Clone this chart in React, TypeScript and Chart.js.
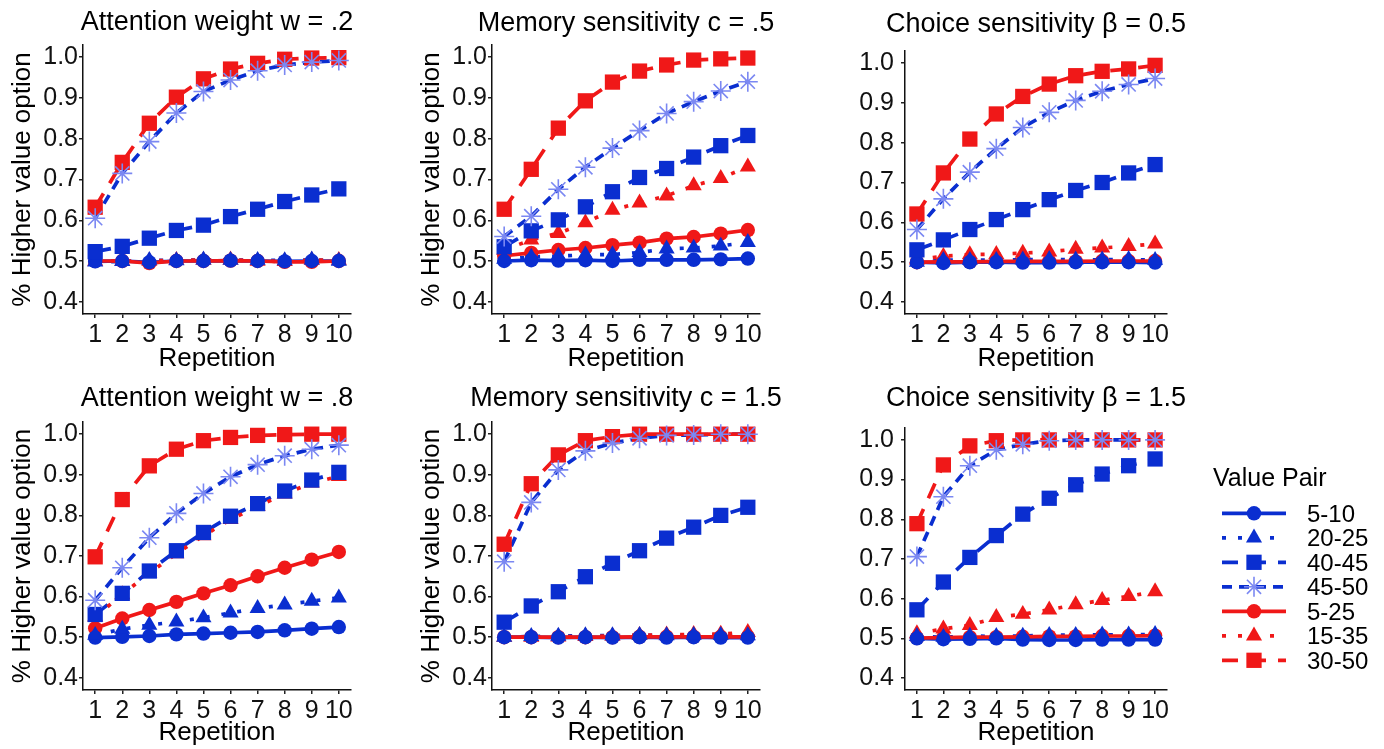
import React, { useEffect, useRef } from "react";
import { Chart, registerables } from "chart.js";

Chart.register(...registerables);

const FONT = "'Liberation Sans', Arial, Helvetica, sans-serif";

// ---------- shared labels ----------
const repetitions = [1, 2, 3, 4, 5, 6, 7, 8, 9, 10];
const yTickValues = [0.4, 0.5, 0.6, 0.7, 0.8, 0.9, 1.0];
const seriesLabels = ["5-10", "20-25", "40-45", "45-50", "5-25", "15-35", "30-50"];
const panelTitles = [
  "Attention weight w = .2",
  "Memory sensitivity c = .5",
  "Choice sensitivity \u03B2 = 0.5",
  "Attention weight w = .8",
  "Memory sensitivity c = 1.5",
  "Choice sensitivity \u03B2 = 1.5",
];
const xAxisTitle = "Repetition";
const yAxisTitle = "% Higher value option";
const legendTitle = "Value Pair";

// ---------- data: Attention weight w = .2 ----------
const w02_5_10 = [0.499, 0.5, 0.497, 0.5, 0.5, 0.501, 0.5, 0.499, 0.5, 0.5];
const w02_20_25 = [0.498, 0.499, 0.502, 0.501, 0.503, 0.502, 0.502, 0.501, 0.503, 0.5];
const w02_40_45 = [0.523, 0.536, 0.556, 0.575, 0.588, 0.609, 0.627, 0.646, 0.662, 0.677];
const w02_45_50 = [0.605, 0.715, 0.793, 0.863, 0.916, 0.944, 0.967, 0.981, 0.988, 0.992];
const w02_5_25 = [0.5, 0.5, 0.495, 0.5, 0.5, 0.501, 0.5, 0.498, 0.498, 0.5];
const w02_15_35 = [0.5, 0.5, 0.5, 0.502, 0.502, 0.503, 0.5, 0.499, 0.502, 0.502];
const w02_30_50 = [0.632, 0.742, 0.838, 0.902, 0.947, 0.971, 0.985, 0.995, 0.998, 0.999];

// ---------- data: Memory sensitivity c = .5 ----------
const m05_5_10 = [0.5, 0.502, 0.501, 0.502, 0.5, 0.503, 0.503, 0.503, 0.504, 0.506];
const m05_20_25 = [0.505, 0.51, 0.512, 0.515, 0.516, 0.521, 0.53, 0.532, 0.537, 0.546];
const m05_40_45 = [0.535, 0.574, 0.601, 0.633, 0.67, 0.705, 0.727, 0.755, 0.783, 0.808];
const m05_45_50 = [0.56, 0.61, 0.676, 0.73, 0.777, 0.82, 0.862, 0.891, 0.917, 0.94];
const m05_5_25 = [0.513, 0.52, 0.527, 0.532, 0.539, 0.545, 0.555, 0.559, 0.567, 0.576];
const m05_15_35 = [0.527, 0.552, 0.568, 0.594, 0.625, 0.643, 0.66, 0.685, 0.703, 0.731];
const m05_30_50 = [0.627, 0.725, 0.826, 0.893, 0.939, 0.966, 0.981, 0.993, 0.996, 0.998];

// ---------- data: Choice sensitivity beta = 0.5 ----------
const b05_5_10 = [0.5, 0.498, 0.5, 0.5, 0.499, 0.499, 0.5, 0.5, 0.5, 0.499];
const b05_20_25 = [0.5, 0.505, 0.505, 0.505, 0.506, 0.507, 0.506, 0.506, 0.507, 0.505];
const b05_40_45 = [0.531, 0.556, 0.582, 0.607, 0.632, 0.657, 0.68, 0.7, 0.724, 0.745];
const b05_45_50 = [0.582, 0.659, 0.726, 0.785, 0.838, 0.876, 0.906, 0.929, 0.946, 0.961];
const b05_5_25 = [0.5, 0.501, 0.501, 0.502, 0.502, 0.502, 0.502, 0.503, 0.503, 0.503];
const b05_15_35 = [0.506, 0.515, 0.519, 0.52, 0.523, 0.526, 0.533, 0.536, 0.54, 0.546];
const b05_30_50 = [0.621, 0.724, 0.809, 0.872, 0.916, 0.947, 0.968, 0.979, 0.985, 0.994];

// ---------- data: Attention weight w = .8 ----------
const w08_5_10 = [0.499, 0.501, 0.503, 0.507, 0.509, 0.511, 0.513, 0.517, 0.521, 0.525];
const w08_20_25 = [0.505, 0.52, 0.53, 0.538, 0.548, 0.56, 0.571, 0.58, 0.589, 0.597];
const w08_40_45 = [0.556, 0.608, 0.663, 0.713, 0.758, 0.798, 0.829, 0.86, 0.887, 0.906];
const w08_45_50 = [0.591, 0.671, 0.745, 0.805, 0.854, 0.895, 0.925, 0.947, 0.963, 0.973];
const w08_5_25 = [0.522, 0.546, 0.567, 0.587, 0.608, 0.628, 0.65, 0.671, 0.691, 0.71];
const w08_15_35 = [0.55, 0.605, 0.658, 0.706, 0.75, 0.79, 0.822, 0.853, 0.88, 0.896];
const w08_30_50 = [0.698, 0.839, 0.922, 0.963, 0.984, 0.992, 0.997, 0.999, 1.0, 1.0];

// ---------- data: Memory sensitivity c = 1.5 ----------
const m15_5_10 = [0.5, 0.5, 0.499, 0.5, 0.499, 0.5, 0.499, 0.5, 0.499, 0.499];
const m15_20_25 = [0.5, 0.502, 0.503, 0.504, 0.504, 0.505, 0.504, 0.505, 0.505, 0.504];
const m15_40_45 = [0.537, 0.577, 0.612, 0.649, 0.682, 0.713, 0.744, 0.771, 0.8, 0.82];
const m15_45_50 = [0.686, 0.832, 0.912, 0.959, 0.978, 0.99, 0.997, 0.998, 1.0, 1.0];
const m15_5_25 = [0.5, 0.5, 0.5, 0.5, 0.5, 0.501, 0.501, 0.501, 0.501, 0.501];
const m15_15_35 = [0.5, 0.5, 0.501, 0.502, 0.503, 0.505, 0.506, 0.507, 0.508, 0.512];
const m15_30_50 = [0.729, 0.878, 0.949, 0.984, 0.994, 1.0, 1.0, 1.0, 1.0, 1.0];

// ---------- data: Choice sensitivity beta = 1.5 ----------
const b15_5_10 = [0.5, 0.498, 0.499, 0.5, 0.497, 0.496, 0.496, 0.497, 0.497, 0.497];
const b15_20_25 = [0.505, 0.503, 0.506, 0.505, 0.506, 0.508, 0.508, 0.509, 0.509, 0.51];
const b15_40_45 = [0.572, 0.642, 0.704, 0.759, 0.813, 0.853, 0.887, 0.914, 0.935, 0.952];
const b15_45_50 = [0.706, 0.857, 0.935, 0.975, 0.989, 0.998, 1.0, 1.0, 1.0, 1.0];
const b15_5_25 = [0.501, 0.502, 0.503, 0.503, 0.504, 0.505, 0.505, 0.506, 0.506, 0.507];
const b15_15_35 = [0.512, 0.524, 0.533, 0.553, 0.561, 0.572, 0.585, 0.596, 0.606, 0.618];
const b15_30_50 = [0.789, 0.937, 0.985, 0.998, 1.0, 1.0, 1.0, 1.0, 1.0, 1.0];

const panelSeries = [
  [w02_5_10, w02_20_25, w02_40_45, w02_45_50, w02_5_25, w02_15_35, w02_30_50],
  [m05_5_10, m05_20_25, m05_40_45, m05_45_50, m05_5_25, m05_15_35, m05_30_50],
  [b05_5_10, b05_20_25, b05_40_45, b05_45_50, b05_5_25, b05_15_35, b05_30_50],
  [w08_5_10, w08_20_25, w08_40_45, w08_45_50, w08_5_25, w08_15_35, w08_30_50],
  [m15_5_10, m15_20_25, m15_40_45, m15_45_50, m15_5_25, m15_15_35, m15_30_50],
  [b15_5_10, b15_20_25, b15_40_45, b15_45_50, b15_5_25, b15_15_35, b15_30_50],
];

// ---------- styles ----------
const BLUE = "#0a2ed0";
const RED = "#f01818";
const STAR = "#7b88f2";
const LINE_W = 3.7;

type SeriesStyle = {
  color: string;
  dash: number[];
  point: string;
  radius: number;
  pointColor: string;
  pointBorder: number;
};

const DOT = [4, 12];
const DASH = [16, 12];
const SHORTDASH = [10, 7];

const seriesStyles: SeriesStyle[] = [
  { color: BLUE, dash: [], point: "circle", radius: 7.2, pointColor: BLUE, pointBorder: 0 },
  { color: BLUE, dash: DOT, point: "triangle", radius: 9.3, pointColor: BLUE, pointBorder: 0 },
  { color: BLUE, dash: DASH, point: "rect", radius: 10.8, pointColor: BLUE, pointBorder: 0 },
  { color: BLUE, dash: SHORTDASH, point: "star", radius: 10, pointColor: STAR, pointBorder: 1.6 },
  { color: RED, dash: [], point: "circle", radius: 7.2, pointColor: RED, pointBorder: 0 },
  { color: RED, dash: DOT, point: "triangle", radius: 9.3, pointColor: RED, pointBorder: 0 },
  { color: RED, dash: DASH, point: "rect", radius: 10.8, pointColor: RED, pointBorder: 0 },
];

// drawing order of markers (later = on top)
const pointLayerOrder = [4, 5, 6, 0, 1, 2, 3];

// ---------- layout ----------
type Layout = {
  left: number; top: number; w: number; h: number;
  cL: number; cR: number; cT: number; cB: number;
  titleCenter: number; yTitle: boolean; yTickPad: number; xTitleCenter: number;
};

function mk(top: number, h: number, cL: number, cR: number, cT: number, cB: number,
  titleCenter: number, yTitle: boolean, yTickPad: number, xTitleCenter: number, yScaleW: number): Layout {
  const canvasLeft = cL - yScaleW;
  const center = (cL + cR) / 2;
  const w = Math.round(2 * (center - canvasLeft));
  return { left: canvasLeft, top, w, h, cL, cR, cT, cB, titleCenter, yTitle, yTickPad, xTitleCenter };
}

const layouts: Layout[] = [
  mk(0, 378, 83, 351, 45, 314, 23, true, 1, 359, 83),
  mk(0, 378, 492, 760, 45, 314, 23.5, true, 1, 359, 83),
  mk(0, 378, 905, 1167, 51, 314, 25, false, 7, 359, 75),
  mk(378, 371, 83, 351, 422, 690, 398.5, true, 1, 733, 83),
  mk(378, 371, 492, 760, 422, 690, 399, true, 1, 733, 83),
  mk(378, 371, 905, 1167, 428, 690, 398.5, false, 7, 733, 75),
];

const TITLE_SIZE = 27;
const AXIS_TITLE_SIZE = 26;
const TICK_SIZE = 25;
const LH = 1.2;

function buildConfig(idx: number): any {
  const L = layouts[idx];
  const series = panelSeries[idx];
  const n = seriesLabels.length;
  const datasets: any[] = [];
  const total = n * 2;
  let drawIdx = 0;
  // line layer
  for (let s = 0; s < n; s++) {
    const st = seriesStyles[s];
    datasets.push({
      label: seriesLabels[s] + " line",
      data: repetitions.map((r, i) => ({ x: r, y: series[s][i] })),
      borderColor: st.color,
      borderWidth: LINE_W,
      borderDash: st.dash,
      pointRadius: 0,
      fill: false,
      tension: 0,
      clip: false,
      xAxisID: "x",
      yAxisID: "y",
      order: total - drawIdx++,
    });
  }
  // point layer
  for (const s of pointLayerOrder) {
    const st = seriesStyles[s];
    datasets.push({
      label: seriesLabels[s],
      data: repetitions.map((r, i) => ({ x: r, y: series[s][i] })),
      showLine: false,
      pointStyle: st.point,
      pointRadius: st.radius,
      pointBackgroundColor: st.pointColor,
      pointBorderColor: st.pointColor,
      pointBorderWidth: st.pointBorder,
      clip: false,
      xAxisID: "x",
      yAxisID: "y",
      order: total - drawIdx++,
    });
  }

  const titleLH = TITLE_SIZE * LH;
  const tTop = L.titleCenter - L.top - titleLH / 2;
  const tBottom = L.cT - L.top - tTop - titleLH;
  const axisLH = AXIS_TITLE_SIZE * LH;
  const yTitlePad = 22.5 - axisLH / 2;
  const xScaleH = L.top + L.h - L.cB;
  const xTitlePadB = L.top + L.h - L.xTitleCenter - axisLH / 2;
  const yScaleW = L.cL - L.left;
  const rightW = L.left + L.w - L.cR;

  return {
    type: "line",
    data: { datasets },
    options: {
      animation: false,
      responsive: false,
      maintainAspectRatio: false,
      events: [],
      layout: { padding: 0 },
      plugins: {
        legend: { display: false },
        tooltip: { enabled: false },
        title: {
          display: true,
          text: panelTitles[idx],
          color: "#000",
          font: { family: FONT, size: TITLE_SIZE, weight: "normal", lineHeight: LH },
          padding: { top: tTop, bottom: tBottom },
          fullSize: true,
        },
      },
      scales: {
        x: {
          type: "linear",
          position: "bottom",
          min: 0.55,
          max: 10.45,
          afterBuildTicks: (scale: any) => {
            scale.ticks = repetitions.map((v) => ({ value: v }));
          },
          afterFit: (scale: any) => {
            scale.height = xScaleH;
          },
          ticks: {
            autoSkip: false,
            maxRotation: 0,
            minRotation: 0,
            padding: 2,
            color: "#111",
            font: { family: FONT, size: TICK_SIZE, lineHeight: LH },
            callback: (v: any) => String(v),
          },
          grid: {
            display: true,
            drawOnChartArea: false,
            drawTicks: true,
            tickLength: 4,
            color: "#222",
            lineWidth: 1.5,
          },
          border: { display: true, color: "#111", width: 1.5 },
          title: {
            display: true,
            text: xAxisTitle,
            color: "#000",
            font: { family: FONT, size: AXIS_TITLE_SIZE, lineHeight: LH },
            padding: { top: 0, bottom: xTitlePadB },
          },
        },
        y: {
          type: "linear",
          position: "left",
          min: 0.37,
          max: 1.03,
          afterBuildTicks: (scale: any) => {
            scale.ticks = yTickValues.map((v) => ({ value: v }));
          },
          afterFit: (scale: any) => {
            scale.width = yScaleW;
          },
          ticks: {
            padding: L.yTickPad,
            color: "#111",
            font: { family: FONT, size: TICK_SIZE, lineHeight: LH },
            callback: (v: any) => Number(v).toFixed(1),
          },
          grid: {
            display: true,
            drawOnChartArea: false,
            drawTicks: true,
            tickLength: 4,
            color: "#222",
            lineWidth: 1.5,
          },
          border: { display: true, color: "#111", width: 1.5 },
          title: {
            display: L.yTitle,
            text: yAxisTitle,
            color: "#000",
            font: { family: FONT, size: AXIS_TITLE_SIZE, lineHeight: LH },
            padding: { top: yTitlePad, bottom: 0 },
          },
        },
        yR: {
          type: "linear",
          position: "right",
          display: true,
          grid: { display: false },
          border: { display: false },
          ticks: { display: false },
          title: { display: false },
          afterFit: (scale: any) => {
            scale.width = rightW;
          },
        },
      },
    },
  };
}

function Panel({ idx }: { idx: number }) {
  const ref = useRef<HTMLCanvasElement | null>(null);
  const L = layouts[idx];
  useEffect(() => {
    if (!ref.current) return;
    const chart = new Chart(ref.current, buildConfig(idx));
    return () => chart.destroy();
  }, [idx]);
  return (
    <canvas
      ref={ref}
      width={L.w}
      height={L.h}
      style={{ position: "absolute", left: L.left, top: L.top, width: L.w, height: L.h }}
    />
  );
}

function LegendMarker({ st, x, y }: { st: SeriesStyle; x: number; y: number }) {
  const r = st.radius;
  if (st.point === "circle") return <circle cx={x} cy={y} r={r} fill={st.pointColor} />;
  if (st.point === "triangle") {
    const pts = `${x},${y - r} ${x + 0.866 * r},${y + 0.5 * r} ${x - 0.866 * r},${y + 0.5 * r}`;
    return <polygon points={pts} fill={st.pointColor} />;
  }
  if (st.point === "rect") {
    const s = Math.SQRT1_2 * r;
    return <rect x={x - s} y={y - s} width={2 * s} height={2 * s} fill={st.pointColor} />;
  }
  const d = Math.SQRT1_2 * r;
  return (
    <g stroke={st.pointColor} strokeWidth={st.pointBorder}>
      <line x1={x} y1={y - r} x2={x} y2={y + r} />
      <line x1={x - r} y1={y} x2={x + r} y2={y} />
      <line x1={x - d} y1={y - d} x2={x + d} y2={y + d} />
      <line x1={x - d} y1={y + d} x2={x + d} y2={y - d} />
    </g>
  );
}

function Legend() {
  const ox = 1200;
  const oy = 455;
  const rowY0 = 58.3;
  const rowStep = 24.5;
  return (
    <svg
      width={184}
      height={230}
      style={{ position: "absolute", left: ox, top: oy }}
      fontFamily={FONT}
    >
      <text x={13} y={31} fontSize={25} fill="#000">{legendTitle}</text>
      {seriesLabels.map((lab, i) => {
        const st = seriesStyles[i];
        const y = rowY0 + rowStep * i;
        return (
          <g key={lab + i}>
            <line
              x1={22}
              y1={y}
              x2={86}
              y2={y}
              stroke={st.color}
              strokeWidth={LINE_W}
              strokeDasharray={st.dash.length ? st.dash.join(" ") : undefined}
            />
            <LegendMarker st={st} x={54} y={y} />
            <text x={107} y={y + 8.6} fontSize={24} fill="#000">{lab}</text>
          </g>
        );
      })}
    </svg>
  );
}

export default function App() {
  return (
    <div style={{ position: "absolute", left: 0, top: 0, width: 1384, height: 749, background: "#fff", overflow: "hidden" }}>
      {layouts.map((_, i) => (
        <Panel key={i} idx={i} />
      ))}
      <Legend />
    </div>
  );
}
